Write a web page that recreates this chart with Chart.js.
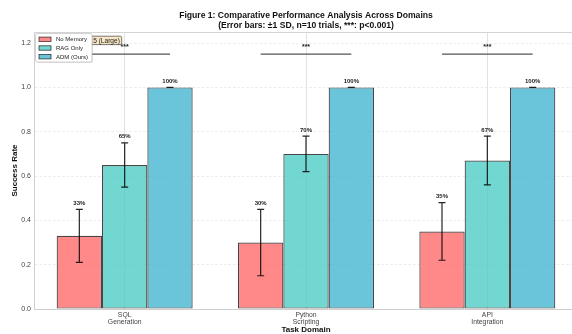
<!DOCTYPE html>
<html>
<head>
<meta charset="utf-8">
<script src="https://cdn.jsdelivr.net/npm/chart.js@4/dist/chart.umd.min.js"></script>
<style>
  html, body { margin: 0; padding: 0; background: #ffffff; overflow: hidden; }
  #wrap { position: absolute; left: 0; top: 0; width: 620px; height: 334px; }
</style>
</head>
<body>
<div id="wrap"><canvas id="chart" width="620" height="334"></canvas></div>
<script>
// Task domains (two-line tick labels)
const categories = [['SQL', 'Generation'], ['Python', 'Scripting'], ['API', 'Integration']];

// Mean success rates and standard deviations (n = 10 trials)
const noMemory = [0.33, 0.30, 0.35];
const noMemorySD = [0.12, 0.15, 0.13];
const ragOnly = [0.65, 0.70, 0.67];
const ragOnlySD = [0.10, 0.08, 0.11];
const admOurs = [1.00, 1.00, 1.00];
const admOursSD = [0.00, 0.00, 0.00];

// Significance markers (No Memory vs ADM) and bracket height
const significance = ['***', '***', '***'];
const bracketLevel = 1.15;

const seriesNames = ['No Memory', 'RAG Only', 'ADM (Ours)'];
const seriesValues = [noMemory, ragOnly, admOurs];
const seriesSD = [noMemorySD, ragOnlySD, admOursSD];
const seriesColors = ['rgba(255,107,107,0.8)', 'rgba(78,205,196,0.8)', 'rgba(69,183,209,0.8)'];

const FONT = '"Liberation Sans", Arial, Helvetica, sans-serif';

const overlay = {
  id: 'overlay',
  afterDatasetsDraw(chart) {
    const ctx = chart.ctx;
    const y = chart.scales.y;
    const area = chart.chartArea;

    // error bars and value labels
    seriesValues.forEach((vals, i) => {
      const meta = chart.getDatasetMeta(i);
      vals.forEach((v, j) => {
        const bar = meta.data[j];
        const sd = seriesSD[i][j];
        const top = y.getPixelForValue(v + sd);
        const bot = y.getPixelForValue(v - sd);
        ctx.save();
        ctx.strokeStyle = 'rgba(0,0,0,0.85)';
        ctx.lineWidth = 1.2;
        ctx.beginPath();
        ctx.moveTo(bar.x, top); ctx.lineTo(bar.x, bot);
        ctx.moveTo(bar.x - 3.5, top); ctx.lineTo(bar.x + 3.5, top);
        ctx.moveTo(bar.x - 3.5, bot); ctx.lineTo(bar.x + 3.5, bot);
        ctx.stroke();
        ctx.fillStyle = '#222';
        ctx.font = 'bold 6px ' + FONT;
        ctx.textAlign = 'center';
        ctx.textBaseline = 'alphabetic';
        ctx.fillText(Math.round(v * 100) + '%', bar.x, top - 4.5);
        ctx.restore();
      });
    });

    // significance brackets
    const first = chart.getDatasetMeta(0);
    const last = chart.getDatasetMeta(2);
    const by = y.getPixelForValue(bracketLevel);
    significance.forEach((s, j) => {
      const x0 = first.data[j].x, x1 = last.data[j].x;
      ctx.save();
      ctx.strokeStyle = '#555';
      ctx.lineWidth = 1.3;
      ctx.beginPath();
      ctx.moveTo(x0, by); ctx.lineTo(x1, by);
      ctx.stroke();
      ctx.fillStyle = '#222';
      ctx.font = 'bold 7px ' + FONT;
      ctx.textAlign = 'center';
      ctx.textBaseline = 'alphabetic';
      ctx.fillText(s, (x0 + x1) / 2, by - 5.5);
      ctx.restore();
    });

    // top frame line
    ctx.save();
    ctx.strokeStyle = '#d4d4d4';
    ctx.lineWidth = 1;
    ctx.beginPath();
    ctx.moveTo(area.left, Math.round(area.top) + 0.5);
    ctx.lineTo(area.right, Math.round(area.top) + 0.5);
    ctx.stroke();
    ctx.restore();

    // effect size note
    ctx.save();
    ctx.font = '6.6px ' + FONT;
    const note = "Cohen's d \u2265 2.5 (Large)";
    const tw = ctx.measureText(note).width;
    const nx1 = 121.7, ny0 = 36.2, ny1 = 44.6;
    const nx0 = nx1 - tw - 3;
    ctx.fillStyle = 'rgba(245,222,179,0.75)';
    ctx.strokeStyle = '#555';
    ctx.lineWidth = 0.8;
    ctx.beginPath();
    ctx.roundRect(nx0, ny0, nx1 - nx0, ny1 - ny0, 1.5);
    ctx.fill(); ctx.stroke();
    ctx.fillStyle = '#222';
    ctx.textAlign = 'right';
    ctx.textBaseline = 'middle';
    ctx.fillText(note, nx1 - 1.8, (ny0 + ny1) / 2 + 0.3);
    ctx.restore();

    // legend
    ctx.save();
    const lx = 35.5, ly = 33.5, lw = 56.5, lh = 28.5;
    ctx.fillStyle = 'rgba(0,0,0,0.12)';
    ctx.beginPath(); ctx.roundRect(lx + 1, ly + 1, lw, lh, 2); ctx.fill();
    ctx.fillStyle = '#ffffff';
    ctx.strokeStyle = '#c8c8c8';
    ctx.lineWidth = 0.8;
    ctx.beginPath(); ctx.roundRect(lx, ly, lw, lh, 2); ctx.fill(); ctx.stroke();
    seriesNames.forEach((name, i) => {
      const cy = 39.3 + i * 8.7;
      ctx.fillStyle = seriesColors[i];
      ctx.fillRect(lx + 3.5, cy - 2.2, 12, 4.4);
      ctx.strokeStyle = 'rgba(0,0,0,0.75)';
      ctx.lineWidth = 0.8;
      ctx.strokeRect(lx + 3.5, cy - 2.2, 12, 4.4);
      ctx.fillStyle = '#222';
      ctx.font = '6px ' + FONT;
      ctx.textAlign = 'left';
      ctx.textBaseline = 'middle';
      ctx.fillText(name, lx + 20.5, cy + 0.3);
    });
    ctx.restore();
  },
  afterDraw(chart) {
    const ctx = chart.ctx;
    const area = chart.chartArea;
    const cx = (area.left + area.right) / 2;
    ctx.save();
    ctx.fillStyle = '#111';
    ctx.textAlign = 'center';
    ctx.textBaseline = 'middle';
    ctx.font = 'bold 8.6px ' + FONT;
    ctx.fillText('Figure 1: Comparative Performance Analysis Across Domains', cx, 15.5);
    ctx.fillText('(Error bars: \u00b11 SD, n=10 trials, ***: p<0.001)', cx, 25.5);
    ctx.font = 'bold 8px ' + FONT;
    ctx.fillText('Task Domain', cx, 330);
    ctx.translate(14.5, (area.top + area.bottom) / 2);
    ctx.rotate(-Math.PI / 2);
    ctx.fillText('Success Rate', 0, 0);
    ctx.restore();
  }
};

new Chart(document.getElementById('chart'), {
  type: 'bar',
  data: {
    labels: categories,
    datasets: seriesNames.map((name, i) => ({
      label: name,
      data: seriesValues[i],
      backgroundColor: seriesColors[i],
      borderColor: 'rgba(0,0,0,0.72)',
      borderWidth: 1.2,
      borderSkipped: false,
      categoryPercentage: 0.75,
      barPercentage: 1.0
    }))
  },
  options: {
    responsive: false,
    animation: false,
    devicePixelRatio: 1,
    layout: { padding: { top: 32, left: 0, right: 42, bottom: 0 } },
    plugins: { legend: { display: false }, tooltip: { enabled: false }, title: { display: false } },
    scales: {
      x: {
        grid: { offset: false, color: '#e2e2e2', lineWidth: 1, drawTicks: false },
        border: { color: '#cfcfcf', width: 1 },
        ticks: {
          font: { family: FONT, size: 6.8, lineHeight: 1.05 },
          color: '#444',
          padding: 2.5,
          maxRotation: 0,
          autoSkip: false
        },
        afterFit(scale) { scale.height = 25; }
      },
      y: {
        min: 0,
        max: 1.25,
        grid: { color: '#e6e6e6', lineWidth: 0.8, drawTicks: false },
        border: { color: '#cfcfcf', width: 1, dash: [2.5, 2] },
        ticks: {
          stepSize: 0.2,
          includeBounds: false,
          callback: v => v.toFixed(1),
          font: { family: FONT, size: 7 },
          color: '#444',
          padding: 3
        },
        afterFit(scale) { scale.width = 34; }
      }
    }
  },
  plugins: [overlay]
});
</script>
</body>
</html>
